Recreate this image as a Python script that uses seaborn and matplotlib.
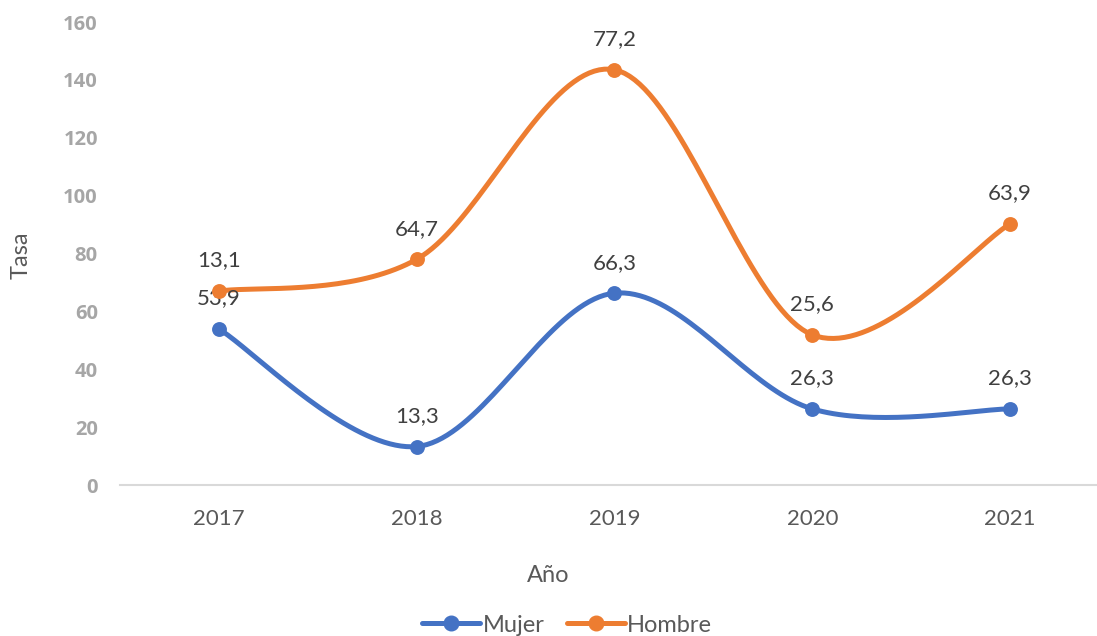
import numpy as np
import pandas as pd
import matplotlib
matplotlib.use("Agg")
import matplotlib.pyplot as plt
from matplotlib.lines import Line2D
import seaborn as sns

years = ["2017", "2018", "2019", "2020", "2021"]
mujer = [53.9, 13.3, 66.3, 26.3, 26.3]
hombre = [13.1, 64.7, 77.2, 25.6, 63.9]

blue = "#4472C4"
orange = "#ED7D31"


def smooth(xs, ys, n=40):
    # Excel-style smoothed line (Catmull-Rom as cubic Bezier)
    xs = np.asarray(xs, float)
    ys = np.asarray(ys, float)
    px = np.concatenate([[xs[0]], xs, [xs[-1]]])
    py = np.concatenate([[ys[0]], ys, [ys[-1]]])
    out_x, out_y = [], []
    t = np.linspace(0, 1, n)
    for i in range(1, len(px) - 2):
        p0 = np.array([px[i], py[i]])
        p3 = np.array([px[i + 1], py[i + 1]])
        c1 = p0 + (p3 - np.array([px[i - 1], py[i - 1]])) / 6
        c2 = p3 - (np.array([px[i + 2], py[i + 2]]) - p0) / 6
        b = ((1 - t) ** 3)[:, None] * p0 + (3 * (1 - t) ** 2 * t)[:, None] * c1 \
            + (3 * (1 - t) * t ** 2)[:, None] * c2 + (t ** 3)[:, None] * p3
        out_x.extend(b[:, 0])
        out_y.extend(b[:, 1])
    return np.array(out_x), np.array(out_y)


sns.set_style("white")
plt.rcParams["font.family"] = ["Lato", "DejaVu Sans"]

fig = plt.figure(figsize=(10.97, 6.36), dpi=100)
ax = fig.add_axes([0.1094, 0.2374, 0.9015, 0.728])

x = np.arange(len(years))
stacked = np.array(mujer) + np.array(hombre)

series = [("Mujer", np.array(mujer), mujer, blue),
          ("Hombre", stacked, hombre, orange)]

for name, yvals, labels, col in series:
    sx, sy = smooth(x, yvals)
    curve = pd.DataFrame({"x": sx, "y": sy})
    sns.lineplot(data=curve, x="x", y="y", sort=False, color=col, lw=3.6,
                 ax=ax, zorder=2)
    pts = pd.DataFrame({"x": x, "y": yvals})
    sns.scatterplot(data=pts, x="x", y="y", color=col, s=115, edgecolor=col,
                    linewidth=0, ax=ax, zorder=3)
    for xi, yi, lab in zip(x, yvals, labels):
        ax.annotate(f"{lab:.1f}".replace(".", ","), (xi, yi), xytext=(0, 22),
                    textcoords="offset points", ha="center", va="center",
                    fontsize=16, color="#404040")

ax.set_xlim(-0.5, 4.5)
ax.set_ylim(0, 160)
ax.set_xticks(x)
ax.set_xticklabels(years)
ax.set_yticks(range(0, 161, 20))
ax.tick_params(axis="x", length=0, pad=17, labelsize=16, labelcolor="#595959")
ax.tick_params(axis="y", length=0, pad=16, labelsize=14.5, labelcolor="#A6A6A6")
for lab in ax.get_yticklabels():
    lab.set_fontweight("bold")
    lab.set_family(["Open Sans", "DejaVu Sans"])

for s in ["top", "right", "left"]:
    ax.spines[s].set_visible(False)
ax.spines["bottom"].set_color("#D9D9D9")
ax.spines["bottom"].set_linewidth(1.5)

ax.set_xlabel("")
ax.set_ylabel("")
fig.text(0.019, 1 - 255 / 636, "Tasa", rotation=90, ha="center", va="center",
         fontsize=17, color="#595959")
fig.text(0.5, 1 - 576 / 636, "Año", ha="center", va="center",
         fontsize=17, color="#595959")

handles = [Line2D([0], [0], color=c, lw=3.6, marker="o", markersize=10.5)
           for c in (blue, orange)]
fig.legend(handles, ["Mujer", "Hombre"], loc="center",
           bbox_to_anchor=(0.517, 1 - 625 / 636), ncol=2, frameon=False,
           fontsize=17, labelcolor="#595959", handlelength=2.45,
           handletextpad=0.1, columnspacing=0.95)

fig.savefig("out.png", dpi=100)
